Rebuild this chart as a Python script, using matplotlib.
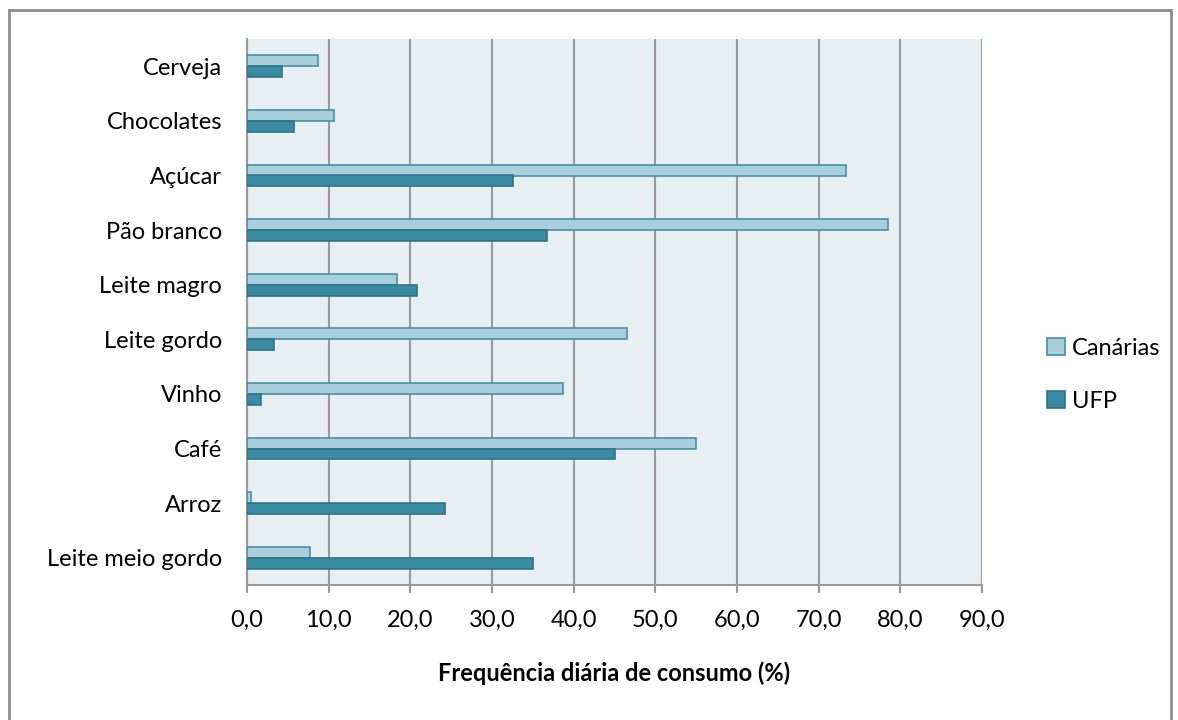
import matplotlib.pyplot as plt
import numpy as np
from matplotlib.patches import Rectangle

plt.rcParams['font.family'] = ['Lato', 'DejaVu Sans']

categories = ['Leite meio gordo', 'Arroz', 'Café', 'Vinho', 'Leite gordo',
              'Leite magro', 'Pão branco', 'Açúcar', 'Chocolates', 'Cerveja']
canarias = [7.7, 0.5, 55.0, 38.7, 46.5, 18.4, 78.5, 73.3, 10.7, 8.7]
ufp = [35.0, 24.2, 45.1, 1.7, 3.3, 20.8, 36.7, 32.6, 5.8, 4.3]
xticks = np.arange(0, 91, 10)
xtick_labels = [('%.1f' % v).replace('.', ',') for v in xticks]

fig = plt.figure(figsize=(11.78, 7.2), dpi=100)
ax = fig.add_axes([247 / 1178, 1 - 585 / 720, 735 / 1178, 546 / 720])

# outer chart frame
fig.patches.append(Rectangle((9 / 1178, -0.05), 1162 / 1178, 1 - 10 / 720 + 0.05,
                             transform=fig.transFigure, fill=False,
                             edgecolor='#8c8c8c', linewidth=2))

y = np.arange(len(categories))
h = 0.2
ax.barh(y + h / 2, canarias, height=h, color='#a9cfdd', edgecolor='#4a8fa5',
        linewidth=1.2, label='Canárias', zorder=3)
ax.barh(y - h / 2, ufp, height=h, color='#3a8aa3', edgecolor='#2f7389',
        linewidth=1.2, label='UFP', zorder=3)

ax.set_facecolor('#e8eff3')
ax.set_xlim(0, 90)
ax.set_ylim(-0.5, len(categories) - 0.5)
ax.set_xticks(xticks)
ax.set_xticklabels(xtick_labels, fontsize=17)
ax.set_yticks(y)
ax.set_yticklabels(categories, fontsize=17)
ax.tick_params(axis='y', length=0, pad=18)
ax.tick_params(axis='x', length=6, color='#999999', width=1.5, pad=12)
ax.xaxis.grid(True, color='#999999', linewidth=1.5, zorder=0)
ax.set_axisbelow(True)
for s in ['top', 'right']:
    ax.spines[s].set_visible(False)
for s in ['left', 'bottom']:
    ax.spines[s].set_color('#999999')
    ax.spines[s].set_linewidth(1.5)

ax.set_xlabel('Frequência diária de consumo (%)', fontsize=17, fontweight='bold',
              labelpad=22)

handles, labels = ax.get_legend_handles_labels()
fig.legend(handles, labels, loc='center left', bbox_to_anchor=(1026 / 1178, 1 - 375 / 720),
           frameon=False, fontsize=17, handlelength=0.75, handleheight=0.75,
           handletextpad=0.3, labelspacing=1.35)

fig.savefig('out.png', dpi=100)
